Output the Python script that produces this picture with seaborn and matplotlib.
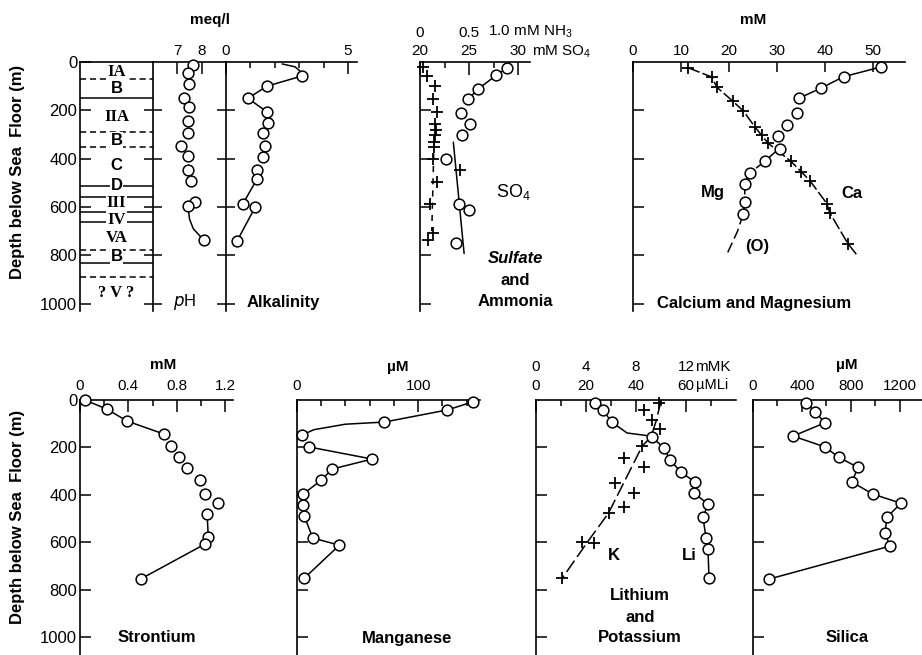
import numpy as np
import pandas as pd
import seaborn as sns
import matplotlib.pyplot as plt

# ---- values (depth in m below sea floor) ----
# lithologic units
unit_names = ['IA', 'B', 'IIA', 'B', 'C', 'D', 'III', 'IV', 'VA', 'B', '? V ?']
unit_depth = [41, 108, 228, 323, 427, 513, 584, 654, 729, 807, 956]
bound_depth = [70, 150, 290, 350, 513, 560, 622, 664, 780, 834, 892]
bound_dashed = [True, False, True, True, False, False, False, False, True, False, True]

# pH
ph_depth = [12, 45, 93, 147, 185, 244, 296, 348, 388, 446, 492, 580, 597, 739]
ph = [7.64, 7.44, 7.48, 7.28, 7.48, 7.44, 7.44, 7.16, 7.44, 7.44, 7.56, 7.72, 7.44, 8.08]
ph_line_depth = [597, 650, 690, 739]
ph_line = [7.44, 7.50, 7.65, 8.08]

# alkalinity (meq/l)
alk_depth = [58, 100, 150, 207, 252, 295, 348, 393, 448, 485, 586, 602, 742]
alk = [3.11, 1.68, 0.90, 1.68, 1.72, 1.52, 1.60, 1.52, 1.27, 1.27, 0.70, 1.19, 0.45]
alk_top_depth = [8, 20, 37, 58, 100, 150, 207]
alk_top = [2.30, 2.83, 3.03, 3.11, 1.68, 0.90, 1.68]
alk_mid_depth = [485, 586]
alk_mid = [1.27, 0.70]
alk_low_depth = [602, 742]
alk_low = [1.19, 0.45]

# sulfate and ammonia (mM)
so4_depth = [24, 54, 113, 155, 212, 257, 303, 403, 586, 611, 750]
so4 = [28.9, 27.8, 25.9, 24.9, 24.2, 25.1, 24.3, 22.7, 24.0, 25.0, 23.7]
so4_trend_depth = [332, 793]
so4_trend = [23.4, 24.5]
nh3_depth = [20, 58, 100, 155, 206, 255, 280, 303, 330, 352, 403, 448, 497, 586, 710, 735]
nh3 = [0.03, 0.07, 0.15, 0.13, 0.17, 0.15, 0.16, 0.15, 0.14, 0.14, 0.13, 0.41, 0.17, 0.10, 0.13, 0.08]
nh3_trend_depth = [380, 700]
nh3_trend = [0.14, 0.12]

# calcium and magnesium (mM)
mg_depth = [20, 61, 109, 150, 213, 261, 307, 361, 411, 459, 504, 579, 628]
mg = [51.8, 43.9, 39.1, 34.6, 34.1, 32.0, 30.3, 30.6, 27.5, 24.4, 23.3, 23.3, 23.0]
mg_trend_depth = [370, 411, 459, 504, 579, 628, 700, 795]
mg_trend = [29.8, 27.5, 24.4, 23.3, 23.3, 23.0, 21.8, 19.6]
ca_depth = [24, 62, 105, 162, 203, 271, 303, 337, 411, 455, 492, 586, 624, 752]
ca = [11.5, 16.4, 17.5, 20.8, 23.0, 25.5, 26.8, 28.2, 32.9, 35.1, 36.9, 40.4, 41.0, 44.8]
ca_end_depth = [800]
ca_end = [46.7]

# strontium (mM)
sr_depth = [0, 38, 89, 143, 194, 240, 287, 338, 397, 435, 481, 578, 608, 755]
sr = [0.04, 0.22, 0.39, 0.69, 0.75, 0.82, 0.88, 0.99, 1.03, 1.14, 1.05, 1.06, 1.03, 0.50]

# manganese (uM)
mn_depth = [8, 42, 93, 148, 198, 249, 291, 338, 397, 443, 489, 582, 612, 751]
mn = [145, 124, 72, 4, 10, 62, 29, 20, 5, 5, 6, 13, 35, 6]
mn_top_depth = [8, 42, 93, 102, 125, 148]
mn_top = [145, 124, 72, 40, 14, 4]

# lithium (uM) and potassium (mM)
li_depth = [12, 42, 93, 156, 203, 253, 304, 346, 392, 439, 494, 582, 629, 751]
li = [23.6, 26.7, 30.3, 46.4, 51.2, 53.6, 58.0, 63.6, 63.2, 68.8, 66.8, 68.0, 68.8, 69.2]
li_top_depth = [93, 139, 150, 156]
li_top = [30.3, 36.4, 44.4, 46.4]
k_depth = [13, 42, 84, 123, 194, 245, 283, 350, 392, 451, 477, 599, 603, 751]
k = [9.8, 8.6, 9.3, 9.9, 8.5, 7.0, 8.6, 6.3, 7.8, 7.0, 5.8, 3.7, 4.6, 2.1]
k_line_depth = [5, 90, 156, 194, 477, 600, 751]
k_line = [10.0, 9.6, 9.2, 8.5, 5.8, 4.1, 2.1]

# silica (uM)
si_depth = [12, 49, 96, 152, 198, 242, 284, 346, 397, 435, 494, 561, 616, 755]
si = [433, 506, 588, 327, 588, 702, 857, 808, 980, 1208, 1094, 1078, 1118, 131]

# ---- figure ----
sns.set_style("ticks", {"axes.edgecolor": "black", "xtick.color": "black",
                        "ytick.color": "black", "text.color": "black"})
plt.rcParams['font.family'] = ['Liberation Sans', 'DejaVu Sans']
plt.rcParams['mathtext.default'] = 'regular'

W, H = 922, 655
fig = plt.figure(figsize=(W / 100, H / 100), dpi=100)
fig.patch.set_facecolor('white')

TOP = (62, 62 + 0.2415 * 1030, 1030)
BOT = (400, 655, 1075)


def new_ax(x0, x1, row):
    y0, y1, _ = row
    ax = fig.add_axes([x0 / W, 1 - y1 / H, (x1 - x0) / W, (y1 - y0) / H])
    ax.set_facecolor('none')
    return ax


def finish(ax, row, xlim, major, minor=(), labels=None, ydir='in',
           ylabels=False, pad=3, maj_len=8.5):
    ax.set_xlim(*xlim)
    ax.set_ylim(row[2], 0)
    ax.xaxis.tick_top()
    ax.set_xticks(major)
    ax.set_xticks(list(minor), minor=True)
    ax.set_xticklabels(labels if labels is not None else [f'{v:g}' for v in major])
    ax.set_xlabel('')
    ax.set_ylabel('')
    ax.spines['right'].set_visible(False)
    ax.spines['bottom'].set_visible(False)
    for s in ('left', 'top'):
        ax.spines[s].set_linewidth(1.2)
    ax.tick_params(axis='x', which='major', direction='in', length=maj_len,
                   width=1.1, pad=pad, labelsize=11)
    ax.tick_params(axis='x', which='minor', direction='in', length=4.5, width=1.1)
    ax.set_yticks([0, 200, 400, 600, 800, 1000] if ylabels else [200, 400, 600, 800, 1000])
    ax.tick_params(axis='y', direction=ydir, length=13 if ydir == 'inout' else 8,
                   width=1.1, labelleft=ylabels, labelsize=12, pad=2)


def dots(ax, x, y, marker='o'):
    if marker == 'o':
        sns.scatterplot(x=x, y=y, ax=ax, marker='o', s=60, color='white',
                        edgecolor='black', linewidth=1.1, zorder=5,
                        clip_on=False, legend=False)
    else:
        sns.scatterplot(x=x, y=y, ax=ax, marker='+', s=80, color='black',
                        linewidth=1.3, zorder=5, clip_on=False, legend=False)


def line(ax, x, y, ls='-'):
    sns.lineplot(x=x, y=y, ax=ax, sort=False, estimator=None, color='black',
                 lw=1.1, linestyle=ls, zorder=3, clip_on=False)


def ftext(x, y, s, **kw):
    kw.setdefault('ha', 'center')
    kw.setdefault('va', 'center')
    kw.setdefault('fontsize', 11)
    fig.text(x / W, 1 - y / H, s, **kw)


# lithology column
ax = new_ax(80, 153, TOP)
for d, dashed in zip(bound_depth, bound_dashed):
    ax.hlines(d, 0, 1, colors='black', lw=1.1,
              linestyles=(0, (4, 2.5)) if dashed else '-')
for name, d in zip(unit_names, unit_depth):
    serif = 'I' in name or 'V' in name
    ax.text(0.5, d, name, ha='center', va='center', fontsize=12, fontweight='bold',
            family=['Liberation Serif'] if serif else ['Liberation Sans'],
            bbox=dict(facecolor='white', edgecolor='none', pad=0.6))
finish(ax, TOP, (0, 1), [], ylabels=True)

# pH
ax = new_ax(153, 226, TOP)
line(ax, ph_line, ph_line_depth)
dots(ax, ph, ph_depth)
finish(ax, TOP, (6.04, 8.96), [7, 8], ydir='inout')

# alkalinity
ax = new_ax(226, 357, TOP)
line(ax, alk_top, alk_top_depth)
line(ax, alk_mid, alk_mid_depth)
line(ax, alk_low, alk_low_depth)
dots(ax, alk, alk_depth)
finish(ax, TOP, (0, 5.37), [0, 5], [1, 2, 3, 4], ydir='inout')

# sulfate and ammonia
ax = new_ax(420, 530, TOP)
ax_n = ax.twiny()
line(ax, so4[:4], so4_depth[:4])
line(ax, so4_trend, so4_trend_depth)
dots(ax, so4, so4_depth)
line(ax_n, nh3_trend, nh3_trend_depth, ls=(0, (4, 4)))
dots(ax_n, nh3, nh3_depth, marker='+')
ax_n.set_xlim(0, 1.122)
ax_n.set_ylim(TOP[2], 0)
ax_n.set_xticks([0, 0.5])
ax_n.set_xticklabels(['0', '0.5'])
ax_n.tick_params(axis='x', length=0, pad=16, labelsize=11)
ax_n.set_xlabel('')
for s in ax_n.spines.values():
    s.set_visible(False)
finish(ax, TOP, (20, 31.22), [20, 25, 30], [22.5, 27.5], maj_len=9)

# calcium and magnesium
ax = new_ax(633, 905, TOP)
line(ax, mg[:4], mg_depth[:4])
line(ax, mg_trend, mg_trend_depth, ls=(0, (7, 3)))
line(ax, ca + ca_end, ca_depth + ca_end_depth, ls=(0, (8, 2)))
dots(ax, mg, mg_depth)
dots(ax, ca, ca_depth, marker='+')
finish(ax, TOP, (0, 56.7), [0, 10, 20, 30, 40, 50], maj_len=7.5)

# strontium
ax = new_ax(80, 233, BOT)
line(ax, sr[:4], sr_depth[:4])
line(ax, sr[10:], sr_depth[10:])
dots(ax, sr, sr_depth)
finish(ax, BOT, (0, 1.264), [0, 0.4, 0.8, 1.2], [0.2, 0.6, 1.0], ylabels=True, pad=5)

# manganese
ax = new_ax(297, 480, BOT)
line(ax, mn_top, mn_top_depth)
line(ax, mn[4:], mn_depth[4:])
dots(ax, mn, mn_depth)
finish(ax, BOT, (0, 151), [0, 100], [20, 40, 60, 80, 120, 140], pad=5)

# lithium and potassium
ax = new_ax(536, 736, BOT)
ax_l = ax.twiny()
line(ax, k_line, k_line_depth, ls=(0, (9, 3)))
dots(ax, k, k_depth, marker='+')
line(ax_l, li[:3], li_depth[:3])
line(ax_l, li_top, li_top_depth)
line(ax_l, li[3:], li_depth[3:])
dots(ax_l, li, li_depth)
ax_l.set_xlim(0, 80)
ax_l.set_ylim(BOT[2], 0)
ax_l.set_xticks([0, 20, 40, 60])
ax_l.set_xticklabels(['0', '20', '40', '60'])
ax_l.tick_params(axis='x', length=0, pad=5, labelsize=11)
ax_l.set_xlabel('')
for s in ax_l.spines.values():
    s.set_visible(False)
finish(ax, BOT, (0, 16), [0, 4, 8, 12], [2, 6, 10, 14], pad=19)

# silica
ax = new_ax(753, 922, BOT)
line(ax, si, si_depth)
dots(ax, si, si_depth)
finish(ax, BOT, (0, 1380), [0, 400, 800, 1200], [200, 600, 1000], pad=5)

# ---- headers and panel labels ----
bold = dict(fontweight='bold')
ftext(18, 172, 'Depth below Sea  Floor (m)', rotation=90, fontsize=12, **bold)
ftext(18, 517, 'Depth below Sea  Floor (m)', rotation=90, fontsize=12, **bold)
ftext(210, 20, 'meq/l', **bold)
ftext(753, 20, 'mM', **bold)
ftext(488, 32, '1.0 mM NH$_3$', ha='left')
ftext(532, 50, 'mM SO$_4$', ha='left', va='center_baseline')
ftext(185, 302, '$\\mathit{p}$H', fontsize=12)
ftext(247, 302, 'Alkalinity', ha='left', fontsize=12, **bold)
ftext(513, 192, 'SO$_4$', fontsize=13)
ftext(515, 258, 'Sulfate', fontsize=12, fontweight='bold', fontstyle='italic')
ftext(515, 280, 'and', fontsize=12, **bold)
ftext(515, 302, 'Ammonia', fontsize=12, **bold)
ftext(713, 193, 'Mg', fontsize=12, **bold)
ftext(852, 193, 'Ca', fontsize=12, **bold)
ftext(757, 247, '(O)', fontsize=12, **bold)
ftext(754, 303, 'Calcium and Magnesium', fontsize=12, **bold)

ftext(163, 365, 'mM', **bold)
ftext(398, 367, 'µM', **bold)
ftext(847, 365, 'µM', **bold)
ftext(695, 367, 'mMK', ha='left')
ftext(696, 385, 'µMLi', ha='left', fontsize=10.5)
ftext(157, 638, 'Strontium', fontsize=12, **bold)
ftext(407, 638, 'Manganese', fontsize=12, **bold)
ftext(614, 555, 'K', fontsize=12, **bold)
ftext(689, 555, 'Li', fontsize=12, **bold)
ftext(640, 595, 'Lithium', fontsize=12, **bold)
ftext(640, 617, 'and', fontsize=12, **bold)
ftext(640, 638, 'Potassium', fontsize=12, **bold)
ftext(847, 638, 'Silica', fontsize=12, **bold)

fig.savefig('out.png', dpi=100)
